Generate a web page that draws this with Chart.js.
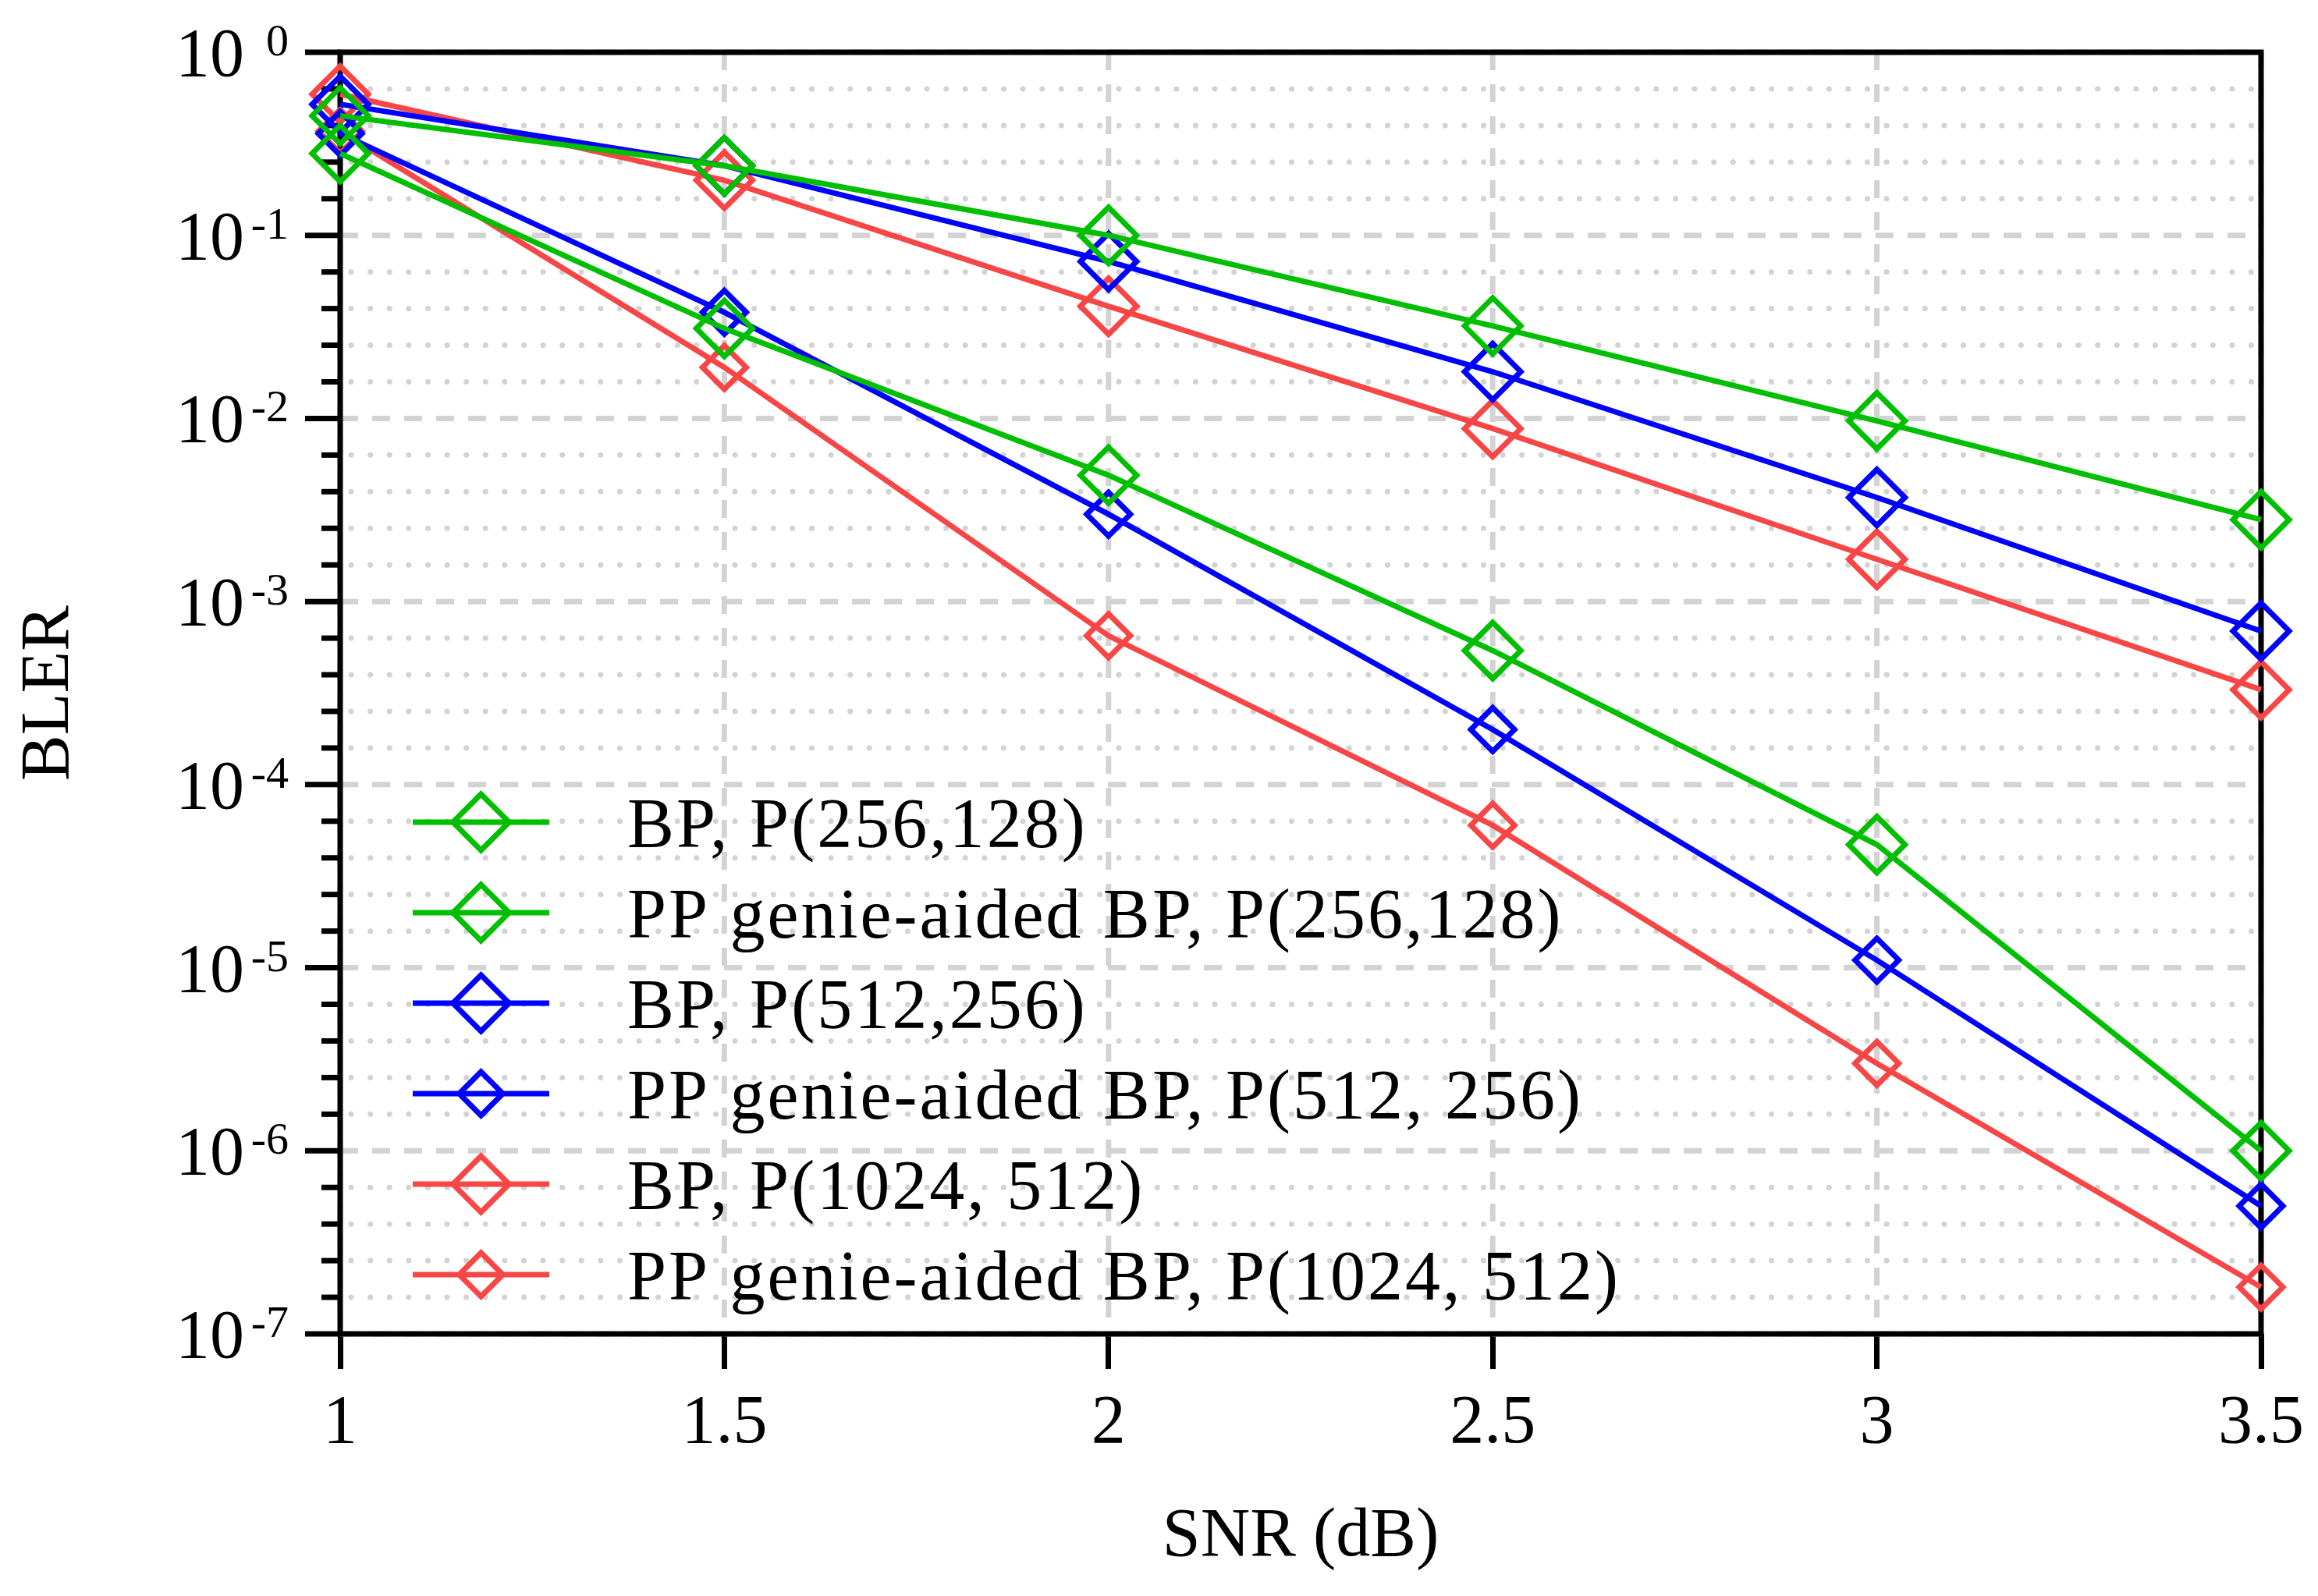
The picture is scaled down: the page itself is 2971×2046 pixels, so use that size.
<!DOCTYPE html>
<html>
<head>
<meta charset="utf-8">
<script src="https://cdn.jsdelivr.net/npm/chart.js@4.4.1/dist/chart.umd.min.js"></script>
<style>
  html, body { margin: 0; padding: 0; background: #fff; }
  canvas { display: block; }
</style>
</head>
<body>
<canvas id="chart" width="2971" height="2046"></canvas>
<script>
// SNR points (dB)
const snr = [1, 1.5, 2, 2.5, 3, 3.5];

// BLER
const bp256   = [0.45, 0.24, 0.10, 0.032, 0.0097, 0.0028];
const pp256   = [0.28, 0.031, 0.0049, 5.4e-4, 4.7e-5, 1.0e-6];
const bp512   = [0.52, 0.24, 0.072, 0.018, 0.0037, 6.9e-4];
const pp512   = [0.36, 0.038, 0.0030, 2.0e-4, 1.1e-5, 5.0e-7];
const bp1024  = [0.59, 0.20, 0.041, 0.0088, 0.0017, 3.3e-4];
const pp1024  = [0.37, 0.019, 6.5e-4, 6.0e-5, 3.0e-6, 1.8e-7];

const seriesLabels = [
  'BP, P(256,128)',
  'PP genie-aided BP, P(256,128)',
  'BP, P(512,256)',
  'PP genie-aided BP, P(512, 256)',
  'BP, P(1024, 512)',
  'PP genie-aided BP, P(1024, 512)'
];

const xTicks = [1, 1.5, 2, 2.5, 3, 3.5];
const xTickLabels = ['1', '1.5', '2', '2.5', '3', '3.5'];
const yDecades = [1, 1e-1, 1e-2, 1e-3, 1e-4, 1e-5, 1e-6, 1e-7];
const yExponents = ['0', '-1', '-2', '-3', '-4', '-5', '-6', '-7'];
const minorSteps = [0.2, 0.4, 0.6, 0.8];

const GREEN = '#00BE00';
const BLUE = '#0000FF';
const RED = '#F84646';
const FONT = "'Liberation Serif', 'Times New Roman', serif";

function series(label, values, color, radius) {
  return {
    label: label,
    data: snr.map((s, i) => ({ x: s, y: values[i] })),
    borderColor: color,
    borderWidth: 7,
    pointStyle: 'rectRot',
    pointRadius: radius,
    pointBorderWidth: 7,
    pointBorderColor: color,
    pointBackgroundColor: 'rgba(0,0,0,0)',
    tension: 0,
    clip: false
  };
}

function strokeLine(ctx, x1, y1, x2, y2) {
  ctx.beginPath();
  ctx.moveTo(x1, y1);
  ctx.lineTo(x2, y2);
  ctx.stroke();
}

// grid, frame and y ticks (drawn under the data)
const frameAndGrid = {
  id: 'frameAndGrid',
  beforeDatasetsDraw(chart) {
    const { ctx, chartArea: a, scales: { x, y } } = chart;
    ctx.save();
    ctx.strokeStyle = '#d3d3d3';

    // minor dotted lines
    ctx.lineWidth = 7;
    ctx.lineCap = 'round';
    ctx.setLineDash([0.1, 24.5]);
    yDecades.slice(0, -1).forEach(d => {
      minorSteps.forEach(s => {
        const py = y.getPixelForValue(d * Math.pow(10, -s));
        strokeLine(ctx, a.left + 14, py, a.right, py);
      });
    });

    // major dashed lines
    ctx.lineCap = 'butt';
    ctx.lineWidth = 7;
    ctx.setLineDash([23, 18]);
    yDecades.forEach(d => {
      const py = y.getPixelForValue(d);
      strokeLine(ctx, a.left, py, a.right, py);
    });
    xTicks.forEach(v => {
      const px = x.getPixelForValue(v);
      strokeLine(ctx, px, a.top, px, a.bottom);
    });

    // frame
    ctx.setLineDash([]);
    ctx.strokeStyle = '#000';
    ctx.lineWidth = 7;
    ctx.strokeRect(a.left, a.top, a.right - a.left, a.bottom - a.top);

    // y ticks, outward
    yDecades.forEach(d => {
      const py = y.getPixelForValue(d);
      strokeLine(ctx, a.left - 45, py, a.left, py);
    });
    yDecades.slice(0, -1).forEach(d => {
      minorSteps.forEach(s => {
        const py = y.getPixelForValue(d * Math.pow(10, -s));
        strokeLine(ctx, a.left - 24, py, a.left, py);
      });
    });
    ctx.restore();
  },
  afterDraw(chart) {
    const { ctx, chartArea: a, scales: { y } } = chart;
    ctx.save();
    ctx.fillStyle = '#000';
    ctx.textAlign = 'right';
    ctx.textBaseline = 'alphabetic';
    yDecades.forEach((d, i) => {
      const py = y.getPixelForValue(d);
      ctx.font = '88px ' + FONT;
      ctx.fillText('10', a.left - 123, py + 30);
      ctx.font = '58px ' + FONT;
      ctx.fillText(yExponents[i], a.left - 66, py + 4);
    });
    ctx.restore();
  }
};

// legend inside the plot, lower left
const legendBox = {
  id: 'legendBox',
  afterDraw(chart) {
    const { ctx, chartArea: a } = chart;
    ctx.save();
    chart.data.datasets.forEach((ds, i) => {
      const cy = a.top + 987 + i * 116;
      const x0 = a.left + 93;
      const x1 = a.left + 268;
      const cx = (x0 + x1) / 2;
      ctx.strokeStyle = ds.borderColor;
      ctx.lineWidth = 7;
      strokeLine(ctx, x0, cy, x1, cy);
      const r = ds.pointRadius;
      ctx.lineWidth = ds.pointBorderWidth;
      ctx.beginPath();
      ctx.moveTo(cx, cy - r);
      ctx.lineTo(cx + r, cy);
      ctx.lineTo(cx, cy + r);
      ctx.lineTo(cx - r, cy);
      ctx.closePath();
      ctx.stroke();
      ctx.fillStyle = '#000';
      ctx.font = '90px ' + FONT;
      ctx.letterSpacing = '3px';
      ctx.textAlign = 'left';
      ctx.textBaseline = 'alphabetic';
      ctx.fillText(ds.label, a.left + 368, cy + 32);
    });
    ctx.restore();
  }
};

new Chart(document.getElementById('chart'), {
  type: 'line',
  data: {
    datasets: [
      series(seriesLabels[0], bp256, GREEN, 36),
      series(seriesLabels[1], pp256, GREEN, 36),
      series(seriesLabels[2], bp512, BLUE, 36),
      series(seriesLabels[3], pp512, BLUE, 28),
      series(seriesLabels[4], bp1024, RED, 36),
      series(seriesLabels[5], pp1024, RED, 28)
    ]
  },
  options: {
    responsive: false,
    animation: false,
    devicePixelRatio: 1,
    events: [],
    layout: { padding: { top: 67, right: 72, left: 0, bottom: 0 } },
    plugins: { legend: { display: false }, tooltip: { enabled: false } },
    scales: {
      x: {
        type: 'linear',
        min: 1,
        max: 3.5,
        afterBuildTicks: s => { s.ticks = xTicks.map(v => ({ value: v })); },
        afterFit: s => { s.height = 336; },
        ticks: {
          font: { family: FONT, size: 88 },
          color: '#000',
          padding: 18,
          maxRotation: 0,
          autoSkip: false,
          callback: v => xTickLabels[xTicks.indexOf(v)]
        },
        grid: {
          drawOnChartArea: false,
          drawTicks: true,
          tickLength: 45,
          tickWidth: 7,
          tickColor: '#000'
        },
        border: { display: false },
        title: {
          display: true,
          text: 'SNR (dB)',
          color: '#000',
          font: { family: FONT, size: 88 },
          padding: { top: 0, bottom: 22 }
        }
      },
      y: {
        type: 'logarithmic',
        min: 1e-7,
        max: 1,
        afterFit: s => { s.width = 436; },
        ticks: { display: false },
        grid: { display: false },
        border: { display: false },
        title: {
          display: true,
          text: 'BLER',
          color: '#000',
          font: { family: FONT, size: 88 },
          padding: { top: 11, bottom: 0 }
        }
      }
    }
  },
  plugins: [frameAndGrid, legendBox]
});
</script>
</body>
</html>
